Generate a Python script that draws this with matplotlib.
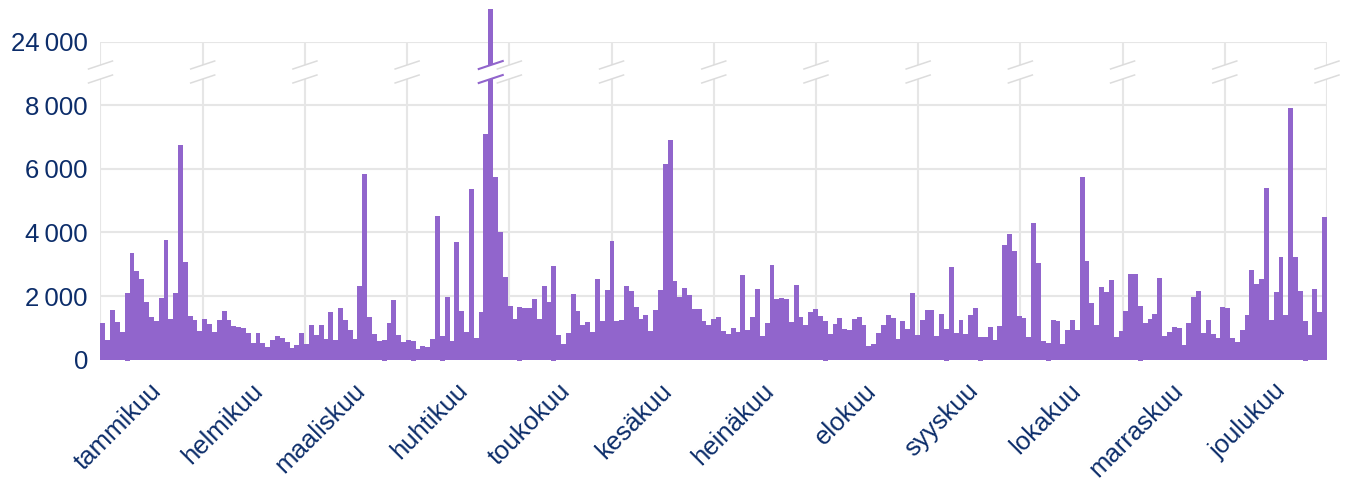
import numpy as np
import matplotlib
matplotlib.use("Agg")
import matplotlib.pyplot as plt
from matplotlib.transforms import IdentityTransform
from matplotlib.patches import Polygon
from matplotlib.lines import Line2D

plt.rcParams['font.family'] = ['Liberation Sans', 'DejaVu Sans']

months = ['tammikuu', 'helmikuu', 'maaliskuu', 'huhtikuu', 'toukokuu', 'kesäkuu',
          'heinäkuu', 'elokuu', 'syyskuu', 'lokakuu', 'marraskuu', 'joulukuu']

values = [
    1141, 618, 1560, 1183, 869, 2104, 3350, 2785, 2534, 1811,
    1340, 1215, 1937, 3759, 1277, 2104, 6743, 3068, 1372, 1246,
    900, 1277, 1120, 869, 1246, 1529, 1246, 1057, 1026, 995,
    838, 524, 838, 524, 398, 618, 743, 681, 555, 366,
    461, 838, 492, 1089, 775, 1089, 649, 1497, 618, 1623,
    1246, 932, 649, 2314, 5832, 1340, 806, 586, 618, 1152,
    1874, 775, 555, 618, 586, 335, 429, 398, 649, 4513,
    743, 1968, 586, 3696, 1529, 869, 5361, 681, 1497, 7088,
    25030, 5738, 4010, 2597, 1686, 1277, 1654, 1623, 1623, 1906,
    1277, 2314, 1811, 2942, 775, 492, 838, 2063, 1529, 1089,
    1183, 869, 2534, 1215, 2198, 3727, 1215, 1246, 2314, 2157,
    1654, 1277, 1403, 900, 1560, 2198, 6146, 6900, 2471, 1968,
    2251, 2031, 1591, 1591, 1215, 1089, 1277, 1340, 900, 806,
    995, 869, 2659, 932, 1340, 2220, 743, 1152, 2973, 1905,
    1937, 1905, 1183, 2345, 1340, 1089, 1497, 1591, 1372, 1215,
    806, 1120, 1309, 963, 932, 1277, 1340, 1089, 429, 492,
    838, 1089, 1403, 1309, 649, 1215, 963, 2094, 775, 1246,
    1560, 1560, 743, 1434, 963, 2911, 838, 1246, 806, 1403,
    1623, 712, 712, 1026, 618, 1057, 3602, 3947, 3413, 1372,
    1309, 712, 4293, 3037, 586, 524, 1246, 1215, 492, 932,
    1246, 932, 5738, 3099, 1780, 1089, 2283, 2125, 2502, 712,
    900, 1529, 2691, 2691, 1686, 1152, 1277, 1434, 2565, 743,
    869, 1026, 995, 461, 1152, 1968, 2157, 838, 1246, 806,
    681, 1654, 1623, 681, 555, 932, 1403, 2816, 2377, 2534,
    5392, 1246, 2125, 3225, 1403, 7905, 3225, 2157, 1215, 775,
    2220, 1497, 4481,
]

marker_days = [5, 58, 64, 70, 86, 93, 149, 174, 181, 195, 214, 248]
marker_values = [-50] * len(marker_days)

y_ticks = [0, 2000, 4000, 6000, 8000, 24000]
y_tick_labels = ['0', '2\u2009000', '4\u2009000', '6\u2009000', '8\u2009000', '24\u2009000']

BAR = '#9165cc'
GRID = '#e6e6e6'
TEXT = '#0c2d6a'


def fwd(v):
    v = np.asarray(v, dtype=float)
    return np.where(v <= 8000, v,
                    np.where(v >= 24000, v - 14000, 8000 + (v - 8000) / 8.0))


def inv(d):
    d = np.asarray(d, dtype=float)
    return np.where(d <= 8000, d,
                    np.where(d >= 10000, d + 14000, 8000 + (d - 8000) * 8.0))


W, H = 1350, 490
fig = plt.figure(figsize=(W / 100, H / 100), dpi=100)
left, right, top, bottom = 100.5, 1327, 41.7, 359.7
ax = fig.add_axes([left / W, 1 - bottom / H, (right - left) / W, (bottom - top) / H])

n = len(values)
x = np.arange(n)
ax.bar(x, values, width=1.0, align='edge', color=BAR, linewidth=0,
       clip_on=False, zorder=2)
ax.bar(marker_days, marker_values, width=1.0, align='edge', color=BAR,
       linewidth=0, clip_on=False, zorder=2)

ax.set_yscale('function', functions=(fwd, inv))
ax.set_xlim(0, n)
ax.set_ylim(0, 24000)

ax.set_yticks(y_ticks)
ax.set_yticklabels(y_tick_labels)
grid_x = np.arange(13) * n / 12.0
label_x = (np.arange(12) + 0.5) * n / 12.0 - 0.6
ax.set_xticks(label_x)
ax.set_xticklabels(months)
ax.set_xticks(grid_x, minor=True)

ax.set_axisbelow(True)
ax.grid(axis='y', which='major', color=GRID, linewidth=1.5)
ax.grid(axis='x', which='minor', color=GRID, linewidth=1.5)
ax.grid(axis='x', which='major', visible=False)
for s in ax.spines.values():
    s.set_visible(False)

ax.tick_params(axis='y', length=0, pad=9, labelsize=18.5, labelcolor=TEXT)
ax.tick_params(axis='x', which='both', length=0)
ax.tick_params(axis='x', which='major', pad=13.5, labelsize=18.5, labelcolor=TEXT)
for lab in ax.get_xticklabels():
    lab.set_rotation(45)
    lab.set_ha('right')
    lab.set_va('top')
    lab.set_rotation_mode('anchor')

# axis-break marks
y8 = ax.transData.transform((0, 8000))[1]
y24 = ax.transData.transform((0, 24000))[1]
yc = (y8 + y24) / 2 + 1.5
yu, yl = yc + 7, yc - 7
hw, hh = 12, 4


def add_break(px, color, lw):
    fig.add_artist(Polygon([(px - hw, yl - hh), (px + hw, yl + hh),
                            (px + hw, yu + hh), (px - hw, yu - hh)],
                           closed=True, facecolor='white', edgecolor='none',
                           transform=IdentityTransform(), zorder=3))
    return [(px, color, lw)]


slashes = []
for g in grid_x:
    px = ax.transData.transform((g, 0))[0]
    slashes += add_break(px, '#dcdcdc', 1.1)
for i, v in enumerate(values):
    if v > 8000:
        px = ax.transData.transform((i + 0.5, 0))[0]
        slashes += add_break(px, BAR, 1.5)

for px, color, lw in slashes:
    for yy in (yu, yl):
        fig.add_artist(Line2D([px - hw, px + hw], [yy - hh, yy + hh],
                              color=color, linewidth=lw,
                              transform=IdentityTransform(), zorder=4))

fig.savefig('out.png', dpi=100)
